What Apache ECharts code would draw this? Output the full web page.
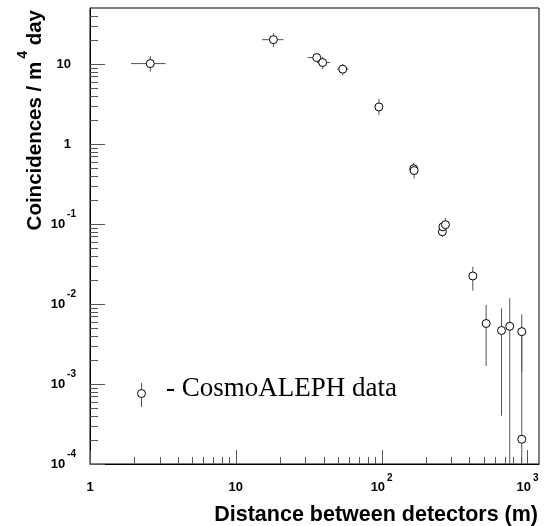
<!DOCTYPE html>
<html><head><meta charset="utf-8">
<script src="https://cdn.jsdelivr.net/npm/echarts@6/dist/echarts.min.js"></script>
<style>html,body{margin:0;padding:0;background:#fff}#c{width:549px;height:526px}</style>
</head><body><div id="c"></div>
<script>
// Distance between detectors (m) and coincidence rate (per m^4 day)
const distance  = [2.59, 18.1, 35.9, 39.4, 54.1, 95.8, 166, 167, 261, 263, 274, 422, 521, 664, 756, 914, 914];
const distLow   = [1.91, 15.1, 31.1, 36.0, 49.4, null, null, null, null, null, null, null, null, null, null, null, null];
const distHigh  = [3.30, 21.2, 38.0, 44.5, 59.1, null, null, null, null, null, null, null, null, null, null, null, null];
const rate      = [10.1, 20.1, 12.0, 10.4, 8.6, 2.90, 0.49, 0.465, 0.080, 0.092, 0.098, 0.0224, 0.0057, 0.00466, 0.00526, 0.00451, 0.000204];
const rateLow   = [8.0, 16.2, 10.7, 8.6, 7.2, 2.30, 0.43, 0.37, 0.069, 0.080, 0.086, 0.0147, 0.00168, 0.000402, 0.000001, 0.0014, 0.000001];
const rateHigh  = [12.6, 24.2, 13.6, 12.3, 10.0, 3.65, 0.58, 0.52, 0.092, 0.106, 0.119, 0.0293, 0.0097, 0.00883, 0.0118, 0.0052, 0.00743];

const xTickValues = [1, 10, 100, 1000];
const xTickLabels = ['{b|1}', '{b|10}', '{b|10}{s|2}', '{b|10}{s|3}'];
const yTickValues = [1e-4, 1e-3, 1e-2, 1e-1, 1, 10];
const yTickLabels = ['{b|10}{s|-4}', '{b|10}{s|-3}', '{b|10}{s|-2}', '{b|10}{s|-1}', '{p|1}', '{p|10}'];
const minorMultipliers = [2, 3, 4, 5, 6, 7, 8, 9];

const X_MIN = 1, X_MAX = 1200, Y_MIN = 1e-4, Y_MAX = 50;

function pickLabel(values, labels, v) {
  for (let i = 0; i < values.length; i++) {
    if (Math.abs(Math.log10(v) - Math.log10(values[i])) < 1e-6) return labels[i];
  }
  return '';
}

// tick marks (major decade + minor 2..9)
const xTicks = [], yTicks = [];
for (let d = X_MIN; d <= X_MAX; d *= 10) {
  xTicks.push([d, Y_MIN, 14]);
  minorMultipliers.forEach(m => { if (d * m < X_MAX) xTicks.push([d * m, Y_MIN, 7]); });
}
for (let e = -4; e <= 1; e++) {
  const d = Math.pow(10, e);
  yTicks.push([X_MIN, d, 15]);
  minorMultipliers.forEach(m => { if (d * m < Y_MAX) yTicks.push([X_MIN, d * m, 8]); });
}

const errData = distance.map((x, i) => [x, rate[i],
  distLow[i] == null ? x : distLow[i], distHigh[i] == null ? x : distHigh[i],
  rateLow[i], rateHigh[i]]);
const pts = distance.map((x, i) => [x, rate[i]]);

const labelRich = {
  b: { fontFamily: 'Liberation Sans', fontWeight: 'bold', fontSize: 13, color: '#000', padding: [8, 0, 8, 0] },
  p: { fontFamily: 'Liberation Sans', fontWeight: 'bold', fontSize: 13, color: '#000', padding: [8, 5, 8, 0] },
  s: { fontFamily: 'Liberation Sans', fontWeight: 'bold', fontSize: 10, color: '#000', verticalAlign: 'top', padding: [0, 0, 0, 2] }
};

// measure pieces of the rotated y title
const mctx = document.createElement('canvas').getContext('2d');
const TITLE_FONT = 'bold 20.5px "Liberation Sans"';
const SUP_FONT = 'bold 14px "Liberation Sans"';
mctx.font = TITLE_FONT;
const wDay = mctx.measureText(' day').width;
mctx.font = SUP_FONT;
const wSup = mctx.measureText('4').width + 3;

const chart = echarts.init(document.getElementById('c'), null, { renderer: 'canvas' });
chart.setOption({
  animation: false,
  backgroundColor: '#fff',
  grid: { left: 90, right: 10, top: 8, bottom: 62, show: true, borderColor: '#000', borderWidth: 1, backgroundColor: 'transparent' },
  xAxis: {
    type: 'log', logBase: 10, min: X_MIN, max: X_MAX,
    axisLine: { show: true, lineStyle: { color: '#000', width: 1 } },
    axisTick: { show: false }, splitLine: { show: false }, minorTick: { show: false },
    axisLabel: { margin: 9, rich: labelRich, formatter: v => pickLabel(xTickValues, xTickLabels, v) }
  },
  yAxis: {
    type: 'log', logBase: 10, min: Y_MIN, max: Y_MAX,
    axisLine: { show: true, lineStyle: { color: '#000', width: 1 } },
    axisTick: { show: false }, splitLine: { show: false }, minorTick: { show: false },
    axisLabel: { margin: 14, rich: labelRich, formatter: v => pickLabel(yTickValues, yTickLabels, v) }
  },
  graphic: [
    { type: 'group', x: 35, y: 10, rotation: Math.PI / 2, children: [
      { type: 'text', x: 0, y: 0, style: { text: ' day', align: 'right', verticalAlign: 'middle', font: TITLE_FONT, fill: '#000' } },
      { type: 'text', x: -wDay, y: -12, style: { text: '4', align: 'right', verticalAlign: 'middle', font: SUP_FONT, fill: '#000' } },
      { type: 'text', x: -wDay - wSup, y: 0, style: { text: 'Coincidences / m', align: 'right', verticalAlign: 'middle', font: TITLE_FONT, fill: '#000' } }
    ] },
    { type: 'text', x: 538, y: 515,
      style: { text: 'Distance between detectors (m)', align: 'right', verticalAlign: 'middle',
        font: 'bold 21.5px "Liberation Sans"', fill: '#000' } },
    { type: 'group', children: [
      { type: 'line', shape: { x1: 141.5, y1: 383, x2: 141.5, y2: 407 }, style: { stroke: '#555', lineWidth: 1 } },
      { type: 'circle', shape: { cx: 141.5, cy: 393.5, r: 4 }, style: { fill: '#fff', stroke: '#000', lineWidth: 1 } },
      { type: 'text', x: 166, y: 389, style: { text: '- CosmoALEPH data', align: 'left', verticalAlign: 'middle',
        font: '27px "Liberation Serif"', fill: '#000' } }
    ] }
  ],
  series: [
    {
      type: 'custom', name: 'xticks', data: xTicks, silent: true, clip: false, z: 3,
      renderItem: (params, api) => {
        const cs = params.coordSys;
        const px = Math.round(api.coord([api.value(0), Y_MIN])[0]) + 0.5;
        const yb = cs.y + cs.height;
        return { type: 'line', shape: { x1: px, y1: yb, x2: px, y2: yb - api.value(2) }, style: { stroke: '#555', lineWidth: 1 } };
      }
    },
    {
      type: 'custom', name: 'yticks', data: yTicks, silent: true, clip: false, z: 3,
      renderItem: (params, api) => {
        const cs = params.coordSys;
        const py = Math.round(api.coord([X_MIN, api.value(1)])[1]) + 0.5;
        return { type: 'line', shape: { x1: cs.x, y1: py, x2: cs.x + api.value(2), y2: py }, style: { stroke: '#555', lineWidth: 1 } };
      }
    },
    {
      type: 'custom', name: 'errors', data: errData, silent: true, z: 4,
      dimensions: ['x', 'y', 'xlo', 'xhi', 'ylo', 'yhi'], encode: { x: 0, y: 1 },
      renderItem: (params, api) => {
        const cs = params.coordSys;
        const top = cs.y, bot = cs.y + cs.height;
        const cl = v => Math.max(top, Math.min(bot, v));
        const p = api.coord([api.value(0), api.value(1)]);
        const yl = api.coord([api.value(0), api.value(4)])[1];
        const yh = api.coord([api.value(0), api.value(5)])[1];
        const xl = api.coord([api.value(2), api.value(1)])[0];
        const xh = api.coord([api.value(3), api.value(1)])[0];
        const children = [{ type: 'line', shape: { x1: p[0], y1: cl(yh), x2: p[0], y2: cl(yl) }, style: { stroke: '#555', lineWidth: 1 } }];
        if (xh - xl > 0.5) children.push({ type: 'line', shape: { x1: xl, y1: p[1], x2: xh, y2: p[1] }, style: { stroke: '#555', lineWidth: 1 } });
        return { type: 'group', children };
      }
    },
    {
      type: 'scatter', name: 'CosmoALEPH data', data: pts, z: 5,
      symbol: 'circle', symbolSize: 8,
      itemStyle: { color: '#fff', borderColor: '#000', borderWidth: 1, opacity: 1 }
    }
  ]
});
</script></body></html>
